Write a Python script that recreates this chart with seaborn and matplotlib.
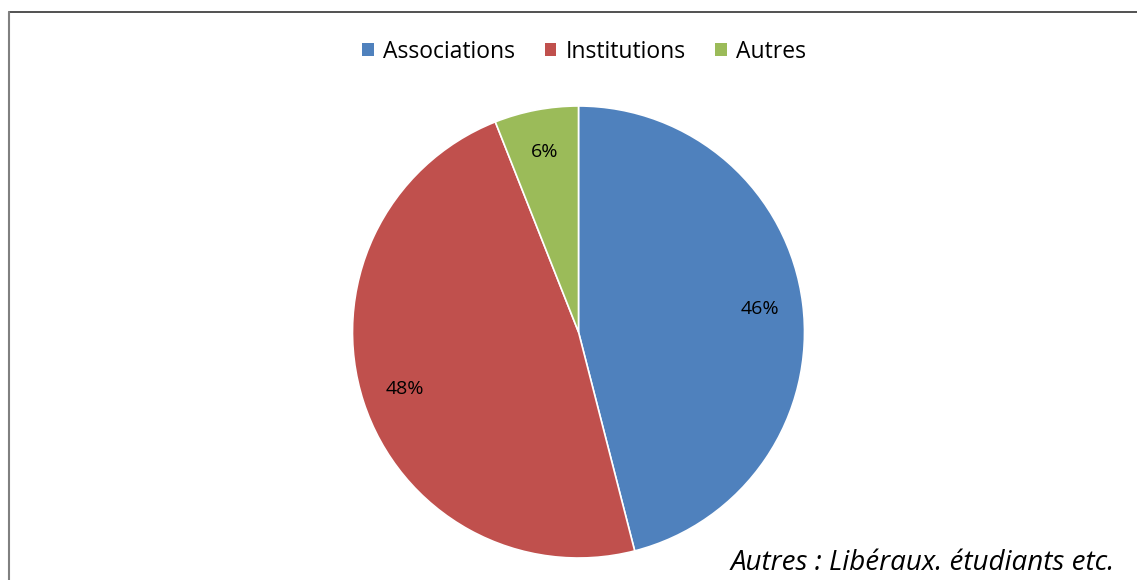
import matplotlib
matplotlib.use("Agg")
import matplotlib.pyplot as plt
import seaborn as sns
from matplotlib.lines import Line2D
from matplotlib.patches import Patch

sns.set_theme(style="white")
plt.rcParams['font.family'] = ['Open Sans', 'DejaVu Sans']
plt.rcParams['text.color'] = 'black'

categories = ["Associations", "Institutions", "Autres"]
values = [46, 48, 6]
colors = ["#4F81BD", "#C0504D", "#9BBB59"]
note = "Autres : Libéraux. étudiants etc."

fig = plt.figure(figsize=(11.37, 5.80), dpi=100)
ax = fig.add_axes([352 / 1137, 22 / 580, 453 / 1137, 452 / 580])

wedges, texts, autotexts = ax.pie(
    values,
    colors=colors,
    startangle=90,
    counterclock=False,
    autopct="%1.0f%%",
    pctdistance=0.81,
    wedgeprops={"edgecolor": "white", "linewidth": 1.2},
    textprops={"fontsize": 14, "color": "black"},
)
ax.set_xlim(-1, 1)
ax.set_ylim(-1, 1)
ax.set_aspect("equal")
ax.axis("off")

handles = [Patch(facecolor=c, edgecolor="none") for c in colors]
fig.legend(handles, categories, loc="center", bbox_to_anchor=(584 / 1137, 1 - 52 / 580),
           ncol=3, frameon=False, fontsize=16.5, handlelength=0.5, handleheight=0.5,
           handletextpad=0.4, columnspacing=1.3, labelcolor="black")

fig.text(1115 / 1137, 1 - 563 / 580, note, ha="right", va="center",
         fontsize=20, style="italic", color="black")

# chart frame (top and left edges visible)
fig.add_artist(Line2D([9 / 1137, 1], [1 - 12 / 580, 1 - 12 / 580], color="#333333", lw=1.2))
fig.add_artist(Line2D([9 / 1137, 9 / 1137], [0, 1 - 12 / 580], color="#808080", lw=1.5))

fig.savefig("out.png", dpi=100)
